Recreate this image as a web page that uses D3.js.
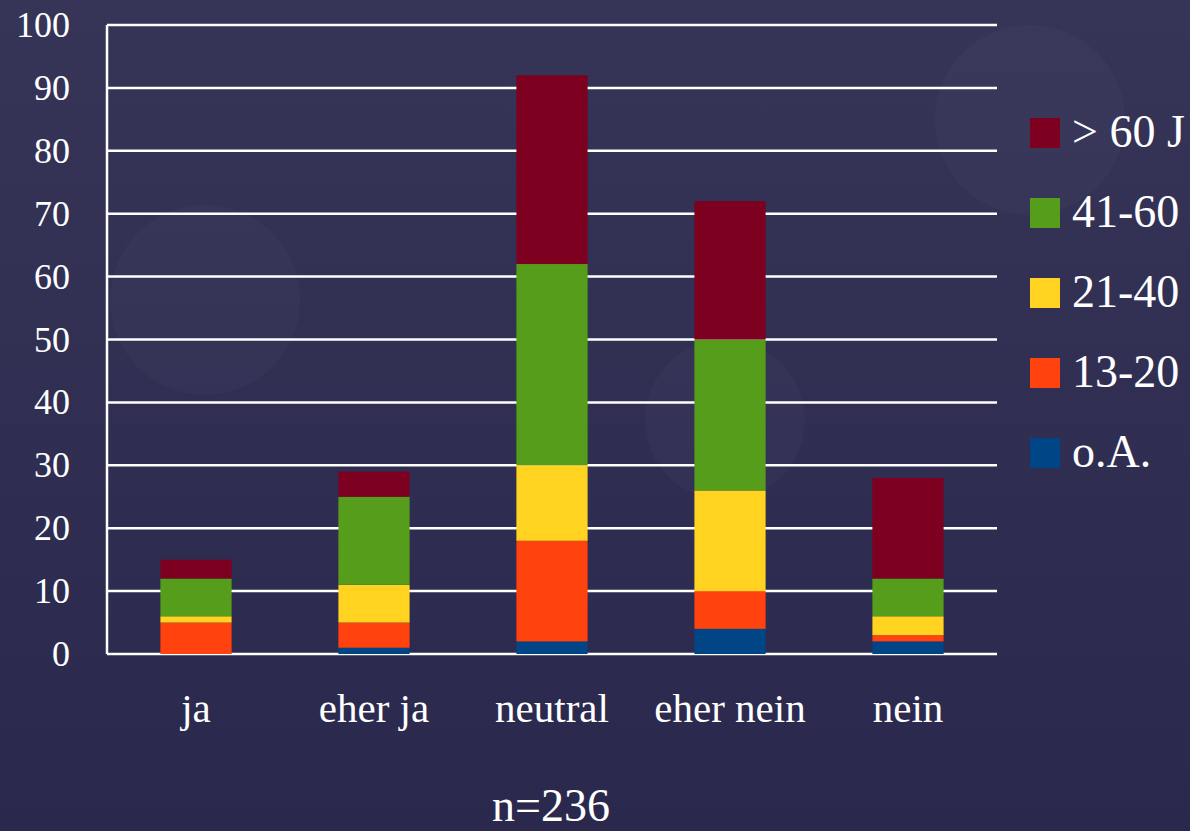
<!DOCTYPE html>
<html>
<head>
<meta charset="utf-8">
<script src="https://cdn.jsdelivr.net/npm/d3@7.9.0/dist/d3.min.js"></script>
<style>
  html, body { margin: 0; padding: 0; background: #2e2d51; }
  svg { display: block; }
  text { font-family: "Liberation Serif", "Times New Roman", serif; fill: #ffffff; }
</style>
</head>
<body>
<svg id="chart" width="1190" height="831"></svg>
<script>
const categories = ['ja', 'eher ja', 'neutral', 'eher nein', 'nein'];
const seriesNames = ['o.A.', '13-20', '21-40', '41-60', '> 60 J'];
const seriesColors = ['#004586', '#ff420e', '#ffd320', '#579d1c', '#7e0021'];

// values per category, in the order of seriesNames
const oA      = [0, 1, 2, 4, 2];
const age1320 = [5, 4, 16, 6, 1];
const age2140 = [1, 6, 12, 16, 3];
const age4160 = [6, 14, 32, 24, 6];
const age60   = [3, 4, 30, 22, 16];
const yTicks = [0, 10, 20, 30, 40, 50, 60, 70, 80, 90, 100];
const sampleLabel = 'n=236';

const seriesValues = [oA, age1320, age2140, age4160, age60];
const table = categories.map((c, i) => {
    let row = { category: c };
    seriesNames.forEach((s, j) => { row[s] = seriesValues[j][i]; });
    return row;
});

const svg = d3.select('#chart');

// background
let defs = svg.append('defs');
let grad = defs.append('linearGradient').attr('id', 'bg').attr('x1', 0).attr('y1', 0).attr('x2', 0).attr('y2', 1);
grad.append('stop').attr('offset', '0%').attr('stop-color', '#363558');
grad.append('stop').attr('offset', '100%').attr('stop-color', '#2a294d');
svg.append('rect').attr('width', 1190).attr('height', 831).attr('fill', 'url(#bg)');

let blobs = [[1030, 120, 95], [205, 300, 95], [725, 420, 80]];
svg.selectAll('circle.blob')
    .data(blobs)
    .join('circle')
    .attr('class', 'blob')
    .attr('cx', d => d[0])
    .attr('cy', d => d[1])
    .attr('r', d => d[2])
    .attr('fill', '#ffffff')
    .attr('opacity', 0.025);

const plotLeft = 107, plotRight = 997, plotTop = 25, plotBottom = 654;

let x = d3.scaleBand()
    .domain(categories)
    .range([plotLeft, plotRight])
    .paddingInner(0.6)
    .paddingOuter(0.3);

let y = d3.scaleLinear()
    .domain([0, 100])
    .range([plotBottom, plotTop]);

// grid lines
svg.append('g')
    .selectAll('line')
    .data(yTicks)
    .join('line')
    .attr('x1', plotLeft)
    .attr('x2', plotRight)
    .attr('y1', d => y(d))
    .attr('y2', d => y(d))
    .attr('stroke', '#ffffff')
    .attr('stroke-width', 2.5);

svg.append('line')
    .attr('x1', plotLeft).attr('x2', plotLeft)
    .attr('y1', y(100)).attr('y2', y(0))
    .attr('stroke', '#ffffff')
    .attr('stroke-width', 2.5);

// stacked bars
let stack = d3.stack().keys(seriesNames);
let stacked = stack(table);

svg.append('g')
    .selectAll('g')
    .data(stacked)
    .join('g')
    .attr('fill', (d, i) => seriesColors[i])
    .selectAll('rect')
    .data(d => d)
    .join('rect')
    .attr('x', d => x(d.data.category))
    .attr('width', x.bandwidth())
    .attr('y', d => y(d[1]))
    .attr('height', d => y(d[0]) - y(d[1]));

// y axis labels
let yAxis = d3.axisLeft(y).tickValues(yTicks).tickSize(0).tickPadding(0);
let yg = svg.append('g')
    .attr('transform', 'translate(70,0)')
    .call(yAxis);
yg.select('.domain').remove();
yg.selectAll('text')
    .attr('font-size', 36)
    .attr('fill', '#ffffff')
    .attr('font-family', '"Liberation Serif", serif');

// category labels
let xAxis = d3.axisBottom(x).tickSize(0).tickPadding(0);
let xg = svg.append('g')
    .call(xAxis);
xg.select('.domain').remove();
xg.selectAll('text')
    .attr('y', 722)
    .attr('dy', null)
    .attr('font-size', 41)
    .attr('fill', '#ffffff')
    .attr('font-family', '"Liberation Serif", serif');

// legend, top entry is the last series
let legendItems = seriesNames.map((s, i) => ({ name: s, color: seriesColors[i] })).reverse();
let legend = svg.append('g')
    .selectAll('g')
    .data(legendItems)
    .join('g')
    .attr('transform', (d, i) => `translate(1030,${118 + i * 80})`);

legend.append('rect')
    .attr('width', 30)
    .attr('height', 30)
    .attr('fill', d => d.color);

legend.append('text')
    .attr('x', 42)
    .attr('y', 29)
    .attr('font-size', 46)
    .text(d => d.name);

svg.append('text')
    .attr('x', 551)
    .attr('y', 821)
    .attr('text-anchor', 'middle')
    .attr('font-size', 46)
    .text(sampleLabel);
</script>
</body>
</html>
